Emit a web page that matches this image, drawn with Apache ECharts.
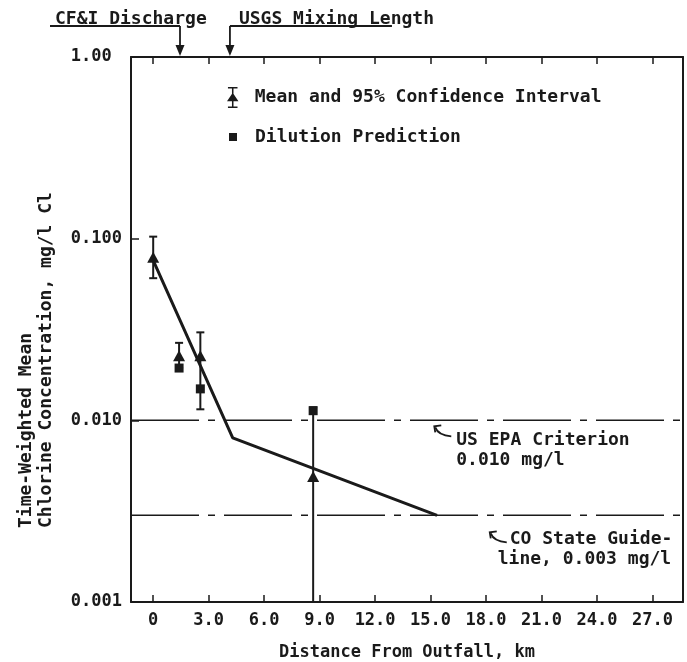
<!DOCTYPE html>
<html>
<head>
<meta charset="utf-8">
<script src="https://cdn.jsdelivr.net/npm/echarts@6/dist/echarts.min.js"></script>
<style>
  html, body { margin: 0; padding: 0; background: #ffffff; }
  #chart { width: 687px; height: 662px; }
</style>
</head>
<body>
<div id="chart"></div>
<script>
// ---- data ----
const xTickValues = [0, 3, 6, 9, 12, 15, 18, 21, 24, 27];
const xTickLabels = ['0', '3.0', '6.0', '9.0', '12.0', '15.0', '18.0', '21.0', '24.0', '27.0'];
const yTickValues = [1, 0.1, 0.01, 0.001];
const yTickLabels = ['1.00 ', '0.100', '0.010', '0.001'];

const meanX = [0, 1.4, 2.55, 8.65];
const meanY = [0.079, 0.0227, 0.0227, 0.0049];
const ciLow = [0.0606, 0.0195, 0.0115, 0.001];
const ciHigh = [0.1026, 0.0267, 0.0305, 0.0118];

const dilutionX = [1.4, 2.55, 8.65];
const dilutionY = [0.0194, 0.0149, 0.0113];

const fitX = [0, 4.3, 15.35];
const fitY = [0.076, 0.0080, 0.0030];

const epaLevel = 0.010;
const coLevel = 0.003;
const levelValues = [epaLevel, coLevel];
const refNoteX = [15.2, 18.2];
const refNoteLines = [['US EPA Criterion', '0.010 mg/l'], ['CO State Guide-', 'line, 0.003 mg/l']];

const siteX = [1.45, 4.15];
const siteLabels = ['CF&I Discharge', 'USGS Mixing Length'];

const seriesNames = ['Mean and 95% Confidence Interval', 'Dilution Prediction'];
const xName = 'Distance From Outfall, km';
const yNameLines = ['Time-Weighted Mean', 'Chlorine Concentration, mg/l Cl'];

// ---- styling ----
const ink = '#1a1a1a';
const FONT = 'DejaVu Sans Mono';
const FW = 'bold';
const fs = 18;      // annotations, legend, y title
const fsTick = 17;  // tick labels, x title
const xMin = -1.2, xMax = 28.65, yMin = 0.001, yMax = 1;
const dashPattern = [68, 9, 7, 9];

const chart = echarts.init(document.getElementById('chart'), null, { renderer: 'canvas' });

function yLabel(v) {
  const e = Math.round(Math.log10(v));
  const idx = yTickValues.findIndex(t => Math.round(Math.log10(t)) === e);
  return idx >= 0 ? yTickLabels[idx] : '';
}
function xLabel(v) {
  const idx = xTickValues.findIndex(t => Math.abs(t - v) < 1e-6);
  return idx >= 0 ? xTickLabels[idx] : '';
}
function txt(text, x, y, size) {
  return { type: 'text', x: x, y: y, style: { text: text, fontFamily: FONT, fontWeight: FW, fontSize: size || fs, fill: ink, align: 'left', verticalAlign: 'middle' } };
}

const levelSeries = levelValues.map((v, i) => ({
  name: 'level' + i, type: 'line', silent: true, symbol: 'none', z: 2,
  lineStyle: { color: ink, width: 1.5, type: dashPattern },
  data: [[xMin, v], [xMax, v]]
}));

const option = {
  backgroundColor: '#ffffff',
  animation: false,
  grid: { left: 131, right: 4, top: 57, bottom: 60, containLabel: false, outerBoundsMode: 'none' },
  legend: [
    {
      data: [{ name: seriesNames[0], icon: 'path://M1,0H11V1.6H1Z M5.2,0H6.8V22H5.2Z M1,20.4H11V22H1Z M0,15L6,6L12,15Z' }],
      left: 222, top: 82, itemWidth: 12, itemHeight: 21, selectedMode: false,
      textStyle: { fontFamily: FONT, fontWeight: FW, fontSize: fs, color: ink, padding: [9, 0, 0, 11] }
    },
    {
      data: [{ name: seriesNames[1], icon: 'rect' }],
      left: 224, top: 123, itemWidth: 8, itemHeight: 8, selectedMode: false,
      textStyle: { fontFamily: FONT, fontWeight: FW, fontSize: fs, color: ink, padding: [0, 0, 0, 13] }
    }
  ],
  xAxis: [
    {
      type: 'value', min: xMin, max: xMax, position: 'bottom',
      name: xName, nameLocation: 'middle', nameGap: 42,
      nameTextStyle: { fontFamily: FONT, fontWeight: FW, fontSize: fsTick, color: ink },
      axisLine: { show: true, onZero: false, lineStyle: { color: ink, width: 2 } },
      axisTick: { show: true, inside: true, length: 7, customValues: xTickValues, lineStyle: { color: ink, width: 1.5 } },
      axisLabel: { show: true, customValues: xTickValues, formatter: xLabel, margin: 10, fontFamily: FONT, fontWeight: FW, fontSize: fsTick, color: ink },
      splitLine: { show: false }
    },
    {
      type: 'value', min: xMin, max: xMax, position: 'top',
      axisLine: { show: true, onZero: false, lineStyle: { color: ink, width: 2 } },
      axisTick: { show: true, inside: true, length: 7, customValues: xTickValues, lineStyle: { color: ink, width: 1.5 } },
      axisLabel: { show: false },
      splitLine: { show: false }
    }
  ],
  yAxis: [
    {
      type: 'log', logBase: 10, min: yMin, max: yMax, position: 'left',
      axisLine: { show: true, onZero: false, lineStyle: { color: ink, width: 2 } },
      axisTick: { show: true, inside: true, length: 8, lineStyle: { color: ink, width: 1.5 } },
      axisLabel: { show: true, formatter: yLabel, margin: 9, fontFamily: FONT, fontWeight: FW, fontSize: fsTick, color: ink },
      splitLine: { show: false },
      minorTick: { show: false }
    },
    {
      type: 'log', logBase: 10, min: yMin, max: yMax, position: 'right',
      axisLine: { show: true, onZero: false, lineStyle: { color: ink, width: 2 } },
      axisTick: { show: false },
      axisLabel: { show: false },
      splitLine: { show: false }
    }
  ],
  graphic: [
    Object.assign(txt(yNameLines[0], 26, 528), { rotation: Math.PI / 2 }),
    Object.assign(txt(yNameLines[1], 46, 528), { rotation: Math.PI / 2 })
  ],
  series: levelSeries.concat([
    {
      name: 'fit', type: 'line', silent: true, symbol: 'none', z: 3,
      lineStyle: { color: ink, width: 3 },
      data: fitX.map((x, i) => [x, fitY[i]])
    },
    {
      name: 'ci', type: 'custom', silent: true, z: 4,
      data: meanX.map((x, i) => [x, ciLow[i], ciHigh[i]]),
      encode: { x: 0, y: [1, 2] },
      renderItem: function (params, api) {
        const x = api.value(0);
        const pLo = api.coord([x, api.value(1)]);
        const pHi = api.coord([x, api.value(2)]);
        const cw = 4;
        const st = { stroke: ink, lineWidth: 2 };
        return {
          type: 'group', children: [
            { type: 'line', shape: { x1: pLo[0], y1: pLo[1], x2: pHi[0], y2: pHi[1] }, style: st },
            { type: 'line', shape: { x1: pHi[0] - cw, y1: pHi[1], x2: pHi[0] + cw, y2: pHi[1] }, style: st },
            { type: 'line', shape: { x1: pLo[0] - cw, y1: pLo[1], x2: pLo[0] + cw, y2: pLo[1] }, style: st }
          ]
        };
      }
    },
    {
      name: seriesNames[0], type: 'scatter', symbol: 'triangle', symbolSize: [12, 11], z: 5,
      itemStyle: { color: ink, opacity: 1 },
      data: meanX.map((x, i) => [x, meanY[i]])
    },
    {
      name: seriesNames[1], type: 'scatter', symbol: 'rect', symbolSize: 9, z: 6,
      itemStyle: { color: ink, opacity: 1 },
      data: dilutionX.map((x, i) => [x, dilutionY[i]])
    },
    {
      // site markers above the plot
      name: 'sites', type: 'custom', silent: true, clip: false, z: 7,
      data: siteX.map((x, i) => [x, yMax, i]),
      encode: { x: 0, y: 1 },
      renderItem: function (params, api) {
        const p = api.coord([api.value(0), api.value(1)]);
        const i = api.value(2);
        const ax = p[0], top = p[1] - 1;
        const ly = top - 30;
        const x1 = i === 0 ? ax - 130 : ax;
        const x2 = i === 0 ? ax : ax + 162;
        const tx = i === 0 ? ax - 125 : ax + 9;
        const st = { stroke: ink, lineWidth: 1.8 };
        return {
          type: 'group', children: [
            { type: 'line', shape: { x1: x1, y1: ly, x2: x2, y2: ly }, style: st },
            { type: 'line', shape: { x1: ax, y1: ly, x2: ax, y2: top - 8 }, style: st },
            { type: 'polygon', shape: { points: [[ax - 4.5, top - 11], [ax + 4.5, top - 11], [ax, top]] }, style: { fill: ink } },
            txt(siteLabels[i], tx, ly - 7)
          ]
        };
      }
    },
    {
      // notes on reference levels
      name: 'notes', type: 'custom', silent: true, clip: false, z: 7,
      data: refNoteX.map((x, i) => [x, levelValues[i], i]),
      encode: { x: 0, y: 1 },
      renderItem: function (params, api) {
        const p = api.coord([api.value(0), api.value(1)]);
        const i = api.value(2);
        const tx = p[0], ty = p[1] + (i === 0 ? 6 : 17);
        const st = { stroke: ink, lineWidth: 1.8, fill: null };
        const l1x = tx + (i === 0 ? 22 : 20);
        const l1y = ty + (i === 0 ? 14 : 7);
        const l2x = tx + (i === 0 ? 22 : 8);
        const l2y = l1y + 20;
        return {
          type: 'group', children: [
            { type: 'bezierCurve', shape: { x1: tx + 1, y1: ty + 1, cpx1: tx + 4, cpy1: ty + 9, x2: tx + 17, y2: ty + 10 }, style: st },
            { type: 'polyline', shape: { points: [[tx + 7, ty - 1], [tx, ty], [tx + 1, ty + 6]] }, style: st },
            txt(refNoteLines[i][0], l1x, l1y),
            txt(refNoteLines[i][1], l2x, l2y)
          ]
        };
      }
    }
  ])
};

chart.setOption(option);
</script>
</body>
</html>
